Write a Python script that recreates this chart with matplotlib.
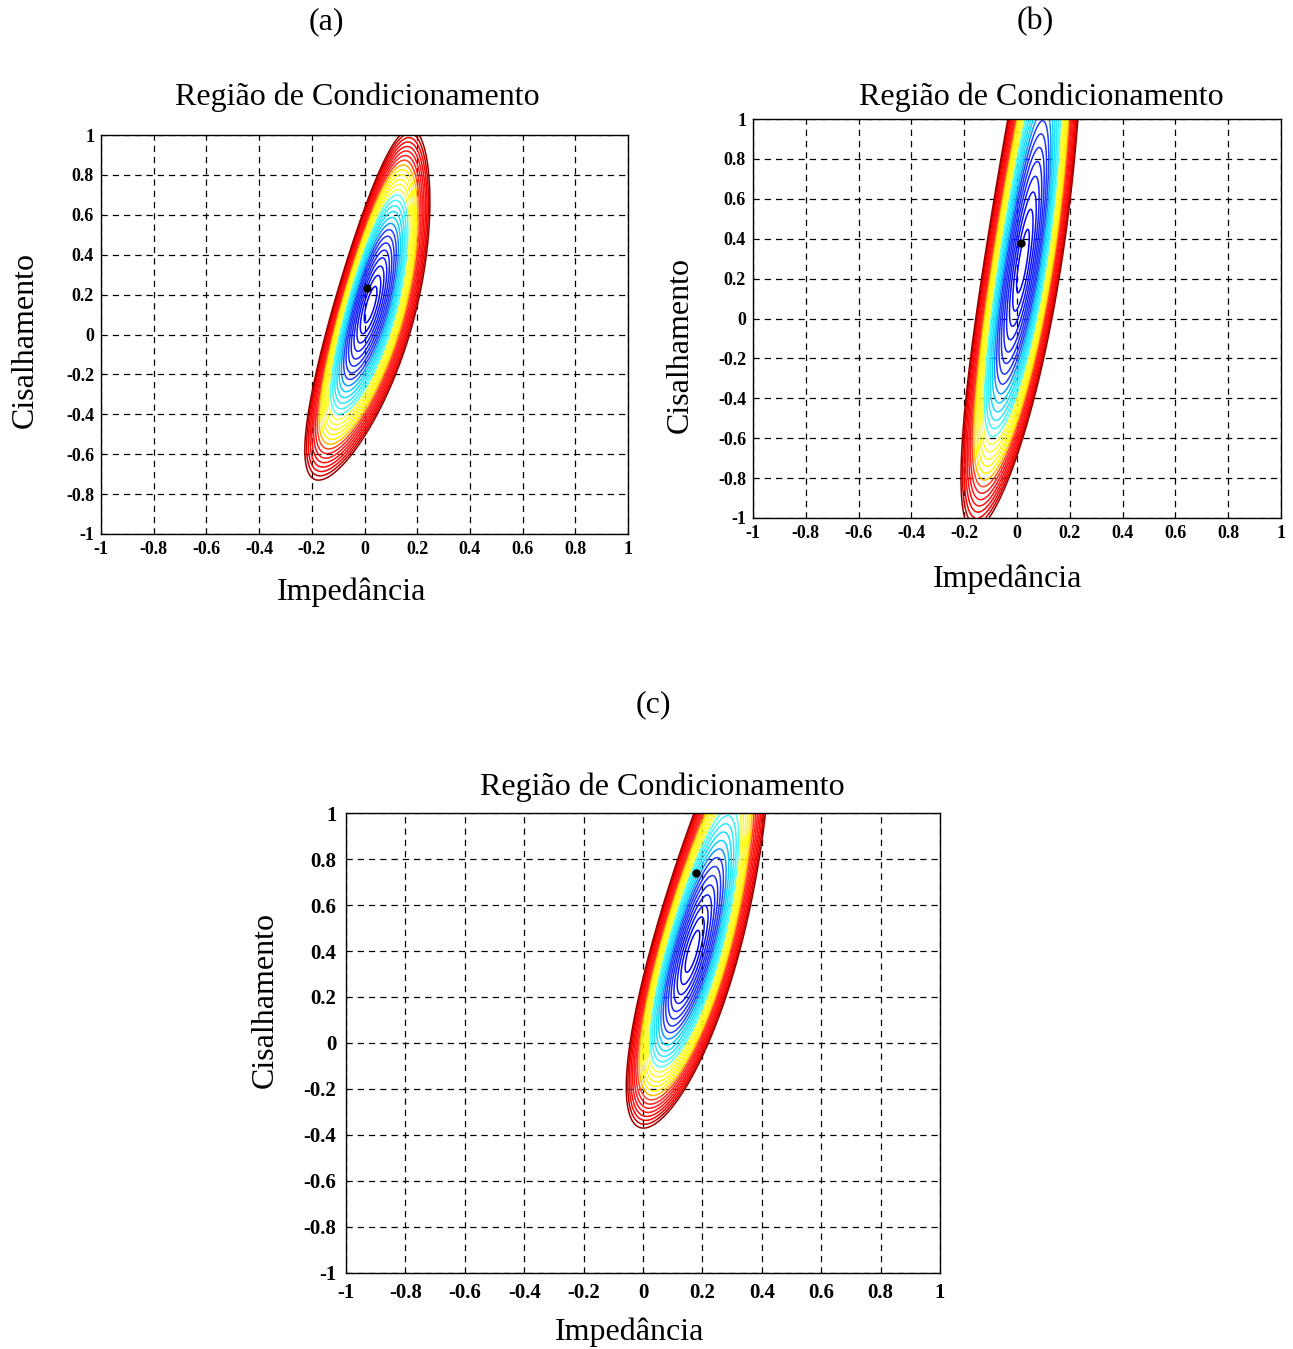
import matplotlib
matplotlib.use("Agg")
import matplotlib.pyplot as plt
import numpy as np
from matplotlib.colors import LinearSegmentedColormap

plt.rcParams["font.family"] = ["Liberation Serif", "DejaVu Serif"]

W_PX, H_PX = 1293, 1349

# region shape per panel: centre line x = a0 + a1*y + a2*y^2,
# half-width w0 + w1*y, vertical centre / half-height, and how far the
# inner contours sit left (skew_u) and low (skew_v); plus the black point
panel_names = ["(a)", "(b)", "(c)"]
mid_a0 = [0.012, -0.012, 0.09]
mid_a1 = [0.205, 0.125, 0.215]
mid_a2 = [-0.03, -0.015, -0.01]
width_w0 = [0.162, 0.147, 0.151]
width_w1 = [-0.02, 0.0, 0.0]
centre_y = [0.15, 0.57, 0.58]
half_h = [0.88, 1.63, 0.95]
skew_u = [0.12, 0.0, 0.05]
skew_v = [0.0, 0.18, 0.2]
point_x = [0.008, 0.015, 0.18]
point_y = [0.231, 0.378, 0.738]
n_levels = 28
level_power = 1.36

tick_vals = [-1, -0.8, -0.6, -0.4, -0.2, 0, 0.2, 0.4, 0.6, 0.8, 1]
tick_text = ["-1", "-0.8", "-0.6", "-0.4", "-0.2", "0", "0.2", "0.4", "0.6", "0.8", "1"]

title = "Região de Condicionamento"
xlabel = "Impedância"
ylabel = "Cisalhamento"

# layout in pixels: axes box (left, top, right, bottom), text centres
boxes = [(101, 135, 628, 534), (753, 119, 1281, 518), (346, 813, 940, 1273)]
title_pos = [(357, 97), (1041, 97), (662, 787)]
name_pos = [(326, 22), (1035, 22), (653, 705)]
xlab_pos = [(352, 592), (1008, 579), (630, 1332)]
ylab_pos = [(25, 340), (680, 345), (265, 1000)]
tick_size = [13, 13, 15]
tick_pad = [5, 5, 7]

cmap = LinearSegmentedColormap.from_list("region", [
    (0.00, (0.0, 0.0, 1.0)),
    (0.27, (0.15, 0.25, 1.0)),
    (0.31, (0.0, 0.8, 1.0)),
    (0.48, (0.3, 1.0, 1.0)),
    (0.52, (1.0, 1.0, 0.2)),
    (0.69, (1.0, 0.95, 0.0)),
    (0.72, (1.0, 0.55, 0.0)),
    (0.75, (1.0, 0.15, 0.15)),
    (0.93, (1.0, 0.0, 0.0)),
    (1.00, (0.6, 0.0, 0.0)),
])


def fx(x):
    return x / W_PX


def fy(y):
    return 1 - y / H_PX


fig = plt.figure(figsize=(W_PX / 100, H_PX / 100), dpi=100)

g = np.linspace(-1, 1, 801)
X, Y = np.meshgrid(g, g)

steps = np.arange(1, n_levels + 1) / n_levels
levels = steps ** level_power
line_colors = [cmap(t) for t in (steps - steps[0]) / (1 - steps[0])]

for i in range(3):
    l, t, r, b = boxes[i]
    ax = fig.add_axes([fx(l), fy(b), fx(r) - fx(l), fy(t) - fy(b)])

    mid = mid_a0[i] + mid_a1[i] * Y + mid_a2[i] * Y ** 2
    u = (X - mid) / (width_w0[i] + width_w1[i] * Y)
    v = (Y - centre_y[i]) / half_h[i]
    u = u + skew_u[i] * np.clip(1 - u ** 2, 0, None)
    v = v + skew_v[i] * np.clip(1 - v ** 2, 0, None)
    F = u ** 2 + v ** 2

    ax.contour(X, Y, F, levels=levels, colors=line_colors, linewidths=1.1)
    ax.plot(point_x[i], point_y[i], "o", color="black", ms=5)

    ax.set_xlim(-1, 1)
    ax.set_ylim(-1, 1)
    ax.set_xticks(tick_vals)
    ax.set_yticks(tick_vals)
    ax.set_xticklabels(tick_text, fontweight="bold", fontsize=tick_size[i])
    ax.set_yticklabels(tick_text, fontweight="bold", fontsize=tick_size[i])
    ax.tick_params(length=0, pad=tick_pad[i])
    ax.grid(True, color="black", linestyle=(0, (5, 4)), linewidth=0.9)
    for s in ax.spines.values():
        s.set_linewidth(1.0)

    fig.text(fx(title_pos[i][0]), fy(title_pos[i][1]), title,
             ha="center", va="center", fontsize=23)
    fig.text(fx(name_pos[i][0]), fy(name_pos[i][1]), panel_names[i],
             ha="center", va="center", fontsize=23)
    fig.text(fx(xlab_pos[i][0]), fy(xlab_pos[i][1]), xlabel,
             ha="center", va="center", fontsize=23)
    fig.text(fx(ylab_pos[i][0]), fy(ylab_pos[i][1]), ylabel,
             ha="center", va="center", fontsize=23, rotation=90)

fig.savefig("out.png", dpi=100)
